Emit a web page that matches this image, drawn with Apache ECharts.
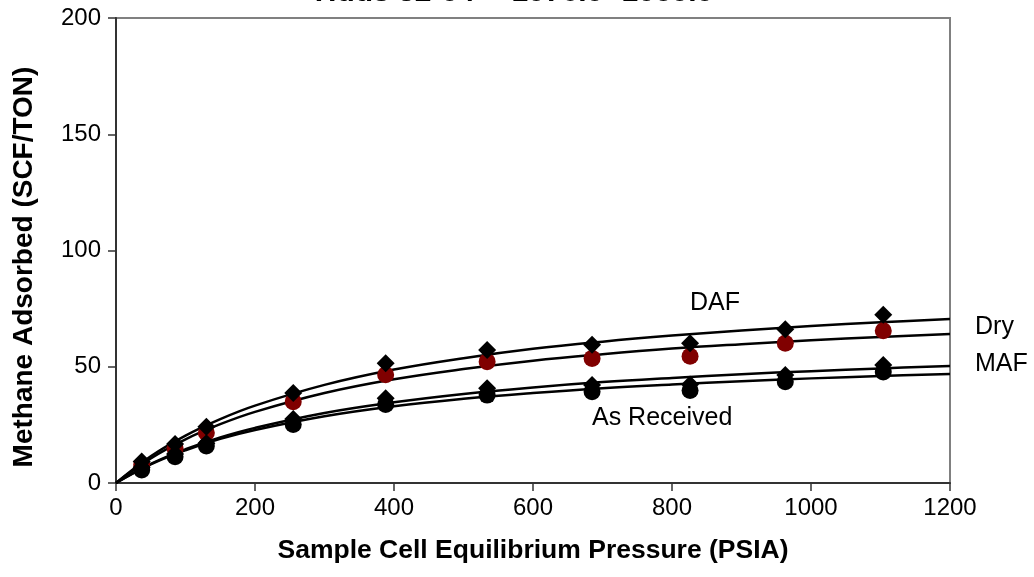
<!DOCTYPE html>
<html><head><meta charset="utf-8">
<script src="https://cdn.jsdelivr.net/npm/echarts@6/dist/echarts.min.js"></script>
<style>html,body{margin:0;padding:0;background:#fff}#c{width:1034px;height:577px}</style>
</head><body><div id="c"></div>
<script>
// Measured pressures (PSIA)
const pressures = [37, 85, 130, 255, 388, 534, 685, 826, 963, 1104];
const dafPts = [9.2, 16.8, 24.2, 38.7, 51.5, 57.2, 59.5, 60.1, 66.1, 72.4];
const dryPts = [7.7, 14.9, 21.6, 35.0, 46.6, 52.2, 53.6, 54.5, 60.1, 65.5];
const mafPts = [6.8, 12.5, 17.1, 27.5, 36.4, 40.7, 42.2, 42.4, 46.5, 50.8];
const arPts  = [5.6, 11.3, 15.9, 25.2, 33.8, 37.8, 39.3, 39.8, 43.6, 47.7];
// Fitted curves
const curveP   = [0, 50, 100, 150, 200, 300, 400, 500, 600, 700, 800, 900, 1000, 1100, 1200];
const dafCurve = [0, 11.5, 20.4, 27.5, 33.3, 42.2, 48.8, 53.7, 57.7, 60.8, 63.4, 65.6, 67.5, 69.1, 70.5];
const dryCurve = [0, 10.6, 18.8, 25.3, 30.6, 38.7, 44.6, 49.0, 52.6, 55.4, 57.8, 59.7, 61.4, 62.8, 64.1];
const mafCurve = [0, 8.2, 14.5, 19.6, 23.7, 30.1, 34.7, 38.3, 41.1, 43.4, 45.2, 46.8, 48.1, 49.3, 50.3];
const arCurve  = [0, 8.0, 14.1, 19.0, 22.8, 28.7, 33.0, 36.2, 38.7, 40.8, 42.4, 43.8, 45.0, 46.0, 46.9];
const xTicks = [0, 200, 400, 600, 800, 1000, 1200];
const yTicks = [0, 50, 100, 150, 200];

const pair = (xs, ys) => xs.map((x, i) => [x, ys[i]]);
const font = 'Liberation Sans, Arial, sans-serif';

function curve(name, ys) {
  return { name, type: 'line', data: pair(curveP, ys), smooth: 0.4, showSymbol: false,
    lineStyle: { color: '#000', width: 2.5 }, z: 2, silent: true };
}
function pts(name, ys, symbol, color) {
  return { name, type: 'scatter', data: pair(pressures, ys), symbol, symbolSize: symbol === 'diamond' ? 18 : 17,
    itemStyle: { color, opacity: 1 }, z: symbol === 'diamond' ? 4 : 3 };
}

const chart = echarts.init(document.getElementById('c'), null, { renderer: 'canvas' });
chart.setOption({
  animation: false,
  backgroundColor: '#fff',
  grid: { left: 116, right: 84, top: 18, bottom: 94, show: true, borderColor: '#808080', borderWidth: 2, backgroundColor: 'transparent' },
  xAxis: {
    type: 'value', min: 0, max: 1200, interval: 200,
    name: 'Sample Cell Equilibrium Pressure (PSIA)', nameLocation: 'middle', nameGap: 54,
    nameTextStyle: { fontFamily: font, fontSize: 26.5, fontWeight: 'bold', color: '#000' },
    axisLine: { show: true, onZero: false, lineStyle: { color: '#333', width: 2 } },
    axisTick: { show: true, length: 8, inside: false, lineStyle: { color: '#333', width: 1.5 } },
    axisLabel: { fontFamily: font, fontSize: 24, color: '#000', margin: 13,
      formatter: v => xTicks.includes(v) ? String(v) : '' },
    splitLine: { show: false }
  },
  yAxis: {
    type: 'value', min: 0, max: 200, interval: 50,
    axisLine: { show: true, onZero: false, lineStyle: { color: '#333', width: 2 } },
    axisTick: { show: true, length: 8, inside: false, lineStyle: { color: '#333', width: 1.5 } },
    axisLabel: { fontFamily: font, fontSize: 24, color: '#000', margin: 15,
      formatter: v => yTicks.includes(v) ? String(v) : '' },
    splitLine: { show: false }
  },
  graphic: [
    { type: 'text', x: 514, y: 8, style: { text: 'Hdds 32-04 -- 1076.0- 1080.0', font: 'bold 30px ' + font, fill: '#000', align: 'center', verticalAlign: 'bottom' } },
    { type: 'text', x: 24, y: 267, rotation: Math.PI / 2, style: { text: 'Methane Adsorbed (SCF/TON)', font: 'bold 28px ' + font, fill: '#000', align: 'center', verticalAlign: 'middle' } },
    { type: 'text', left: 690, top: 291, style: { text: 'DAF', font: '25px ' + font, fill: '#000' } },
    { type: 'text', left: 975, top: 315, style: { text: 'Dry', font: '25px ' + font, fill: '#000' } },
    { type: 'text', left: 975, top: 352, style: { text: 'MAF', font: '25px ' + font, fill: '#000' } },
    { type: 'text', left: 592, top: 406, style: { text: 'As Received', font: '25px ' + font, fill: '#000' } }
  ],
  series: [
    curve('DAF fit', dafCurve), curve('Dry fit', dryCurve), curve('MAF fit', mafCurve), curve('As Received fit', arCurve),
    pts('Dry', dryPts, 'circle', '#800000'),
    pts('DAF', dafPts, 'diamond', '#000'),
    pts('As Received', arPts, 'circle', '#000'),
    pts('MAF', mafPts, 'diamond', '#000')
  ]
});
</script></body></html>
